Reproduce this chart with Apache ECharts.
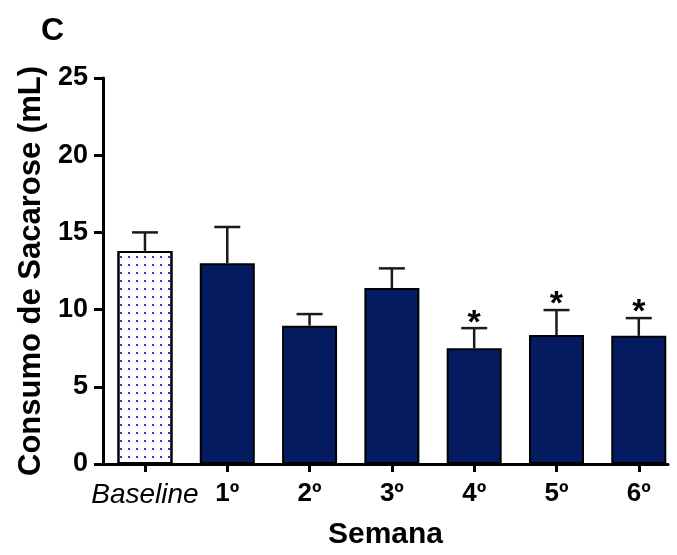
<!DOCTYPE html>
<html>
<head>
<meta charset="utf-8">
<script src="https://cdn.jsdelivr.net/npm/echarts@6/dist/echarts.min.js"></script>
<style>
  html, body { margin: 0; padding: 0; background: #fff; }
  #chart { width: 677px; height: 555px; }
</style>
</head>
<body>
<div id="chart"></div>
<script>
// ---- data ----
var categories = ['Baseline', '1º', '2º', '3º', '4º', '5º', '6º'];
var means = [13.8, 13.0, 8.96, 11.4, 7.5, 8.35, 8.3];
var sems = [1.2, 2.35, 0.75, 1.27, 1.3, 1.62, 1.15];
var stars = ['', '', '', '', '*', '*', '*'];
var yTicks = [0, 5, 10, 15, 20, 25];

var FONT = 'Liberation Sans, Arial, sans-serif';
var positions = categories.map(function (c, i) { return i; });

var barData = means.map(function (m, i) {
  var d = { value: [i, m] };
  if (i === 0) {
    d.itemStyle = {
      color: '#ffffff',
      decal: {
        symbol: 'rect',
        symbolSize: 1,
        dashArrayX: [2, 5.4],
        dashArrayY: [2, 5.7],
        color: '#3434b4',
        rotation: 0
      }
    };
  }
  return d;
});

var errData = means.map(function (m, i) { return [i, m, sems[i]]; });

var chart = echarts.init(document.getElementById('chart'), null, { renderer: 'canvas' });
chart.setOption({
  animation: false,
  backgroundColor: '#ffffff',
  title: {
    text: 'C',
    left: 36,
    top: 10,
    textStyle: { fontFamily: FONT, fontSize: 32, fontWeight: 'bold', color: '#000' }
  },
  grid: { left: 103, right: 9, top: 78, bottom: 91, containLabel: false },
  xAxis: {
    type: 'value',
    min: -0.51,
    max: 6.355,
    name: 'Semana',
    nameLocation: 'middle',
    nameGap: 56,
    nameTextStyle: { fontFamily: FONT, fontSize: 30, fontWeight: 'bold', color: '#000' },
    axisLine: { show: true, onZero: false, lineStyle: { color: '#000', width: 3 } },
    axisTick: { show: true, customValues: positions, length: 8, lineStyle: { color: '#000', width: 3 } },
    splitLine: { show: false },
    axisLabel: {
      customValues: positions,
      margin: 17,
      fontFamily: FONT,
      fontSize: 26,
      color: '#000',
      formatter: function (v) {
        var i = Math.round(v);
        return i === 0 ? '{it|' + categories[i] + '}' : '{b|' + categories[i] + '}';
      },
      rich: {
        it: { fontFamily: FONT, fontSize: 28, fontStyle: 'italic', fontWeight: 'normal', color: '#000' },
        b: { fontFamily: FONT, fontSize: 26, fontWeight: 'bold', color: '#000' }
      }
    }
  },
  yAxis: {
    type: 'value',
    min: yTicks[0],
    max: yTicks[yTicks.length - 1],
    interval: 5,
    name: 'Consumo de Sacarose (mL)',
    nameLocation: 'middle',
    nameGap: 56,
    nameTextStyle: { fontFamily: FONT, fontSize: 31, fontWeight: 'bold', color: '#000' },
    axisLine: { show: true, onZero: false, lineStyle: { color: '#000', width: 3 } },
    axisTick: { show: true, length: 9, lineStyle: { color: '#000', width: 3 } },
    splitLine: { show: false },
    axisLabel: { margin: 15, fontFamily: FONT, fontSize: 27, fontWeight: 'bold', color: '#000' }
  },
  series: [
    {
      type: 'bar',
      data: barData,
      barWidth: 55,
      itemStyle: { color: '#041b60', borderColor: '#000', borderWidth: 2 },
      z: 3
    },
    {
      type: 'custom',
      data: errData,
      encode: { x: 0, y: 1 },
      z: 4,
      renderItem: function (params, api) {
        var x = api.value(0), m = api.value(1), s = api.value(2);
        var p0 = api.coord([x, m]);
        var p1 = api.coord([x, m + s]);
        var half = 13;
        var style = { stroke: '#1a1a1a', lineWidth: 2.5 };
        var children = [
          { type: 'line', shape: { x1: p0[0], y1: p0[1], x2: p1[0], y2: p1[1] }, style: style },
          { type: 'line', shape: { x1: p1[0] - half, y1: p1[1], x2: p1[0] + half, y2: p1[1] }, style: style }
        ];
        var star = stars[params.dataIndex];
        if (star) {
          children.push({
            type: 'text',
            style: {
              text: star,
              x: p1[0],
              y: p1[1] - 5,
              textAlign: 'center',
              textVerticalAlign: 'middle',
              fontFamily: FONT,
              fontSize: 34,
              fontWeight: 'bold',
              fill: '#000'
            }
          });
        }
        return { type: 'group', children: children };
      }
    }
  ]
});
</script>
</body>
</html>
